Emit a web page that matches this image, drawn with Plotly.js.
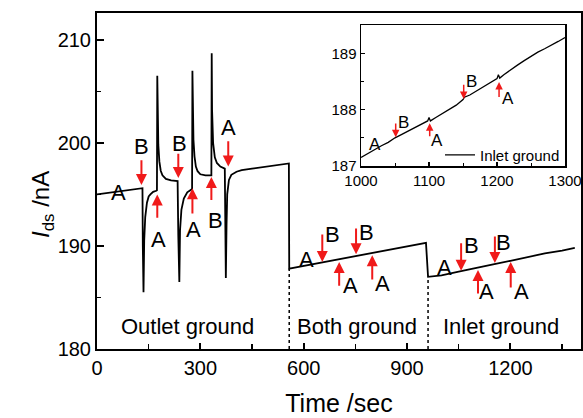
<!DOCTYPE html>
<html>
<head>
<meta charset="utf-8">
<script src="https://cdn.plot.ly/plotly-3.0.1.min.js"></script>
<style>html,body{margin:0;padding:0;background:#fff;}#chart{width:583px;height:418px;}</style>
</head>
<body>
<div id="chart"></div>
<script>
// ---- main trace: drain-source current vs time ----
const timeSec = [0, 30, 60, 90, 120, 132, 133, 135, 137, 140, 145, 150, 155, 163, 172, 174,
  175, 176, 178, 181, 185, 190, 200, 215, 234, 236, 239, 241, 245, 252, 262, 275, 276,
  277, 278, 280, 283, 287, 292, 300, 315, 331, 332, 333, 334, 337, 342, 348, 358, 371,
  372, 374, 376, 378, 383, 390, 405, 420, 450, 500, 557,
  558, 600, 650, 700, 750, 800, 850, 900, 955,
  961, 1000, 1050, 1100, 1150, 1200, 1250, 1300, 1350, 1387];
const currentNA = [195.00, 195.15, 195.28, 195.42, 195.55, 195.60, 190.0, 185.5, 190.5, 192.8, 194.2, 194.8, 195.0, 195.25, 195.35, 195.4,
  206.5, 202.3, 199.8, 198.2, 197.3, 196.85, 196.5, 196.35, 196.3, 191.0, 186.5, 191.5, 193.5, 194.6, 195.2, 195.5, 195.55,
  207.0, 203.2, 200.3, 198.7, 197.7, 197.25, 196.95, 196.85, 196.8, 196.85, 208.7, 203.2, 200.0, 198.6, 198.05, 197.7, 197.5,
  192.0, 186.9, 192.0, 195.0, 196.4, 196.9, 197.2, 197.35, 197.5, 197.75, 198.0,
  187.8, 188.06, 188.38, 188.69, 189.01, 189.32, 189.64, 189.95, 190.3,
  187.0, 187.15, 187.5, 187.82, 188.2, 188.56, 188.95, 189.27, 189.55, 189.8];

// region boundaries (dotted lines)
const boundaryTime = [558, 961];
const boundaryCurrent = [187.8, 187.0];
const regionNames = ["Outlet ground", "Both ground", "Inlet ground"];
const regionTime = [262, 755, 1172];

// ---- inset: inlet ground, 1000-1300 s ----
const insetTime = [1000, 1010, 1020, 1030, 1040, 1050, 1060, 1070, 1080, 1090, 1098, 1100, 1102, 1110, 1120,
  1130, 1140, 1150, 1152, 1160, 1170, 1180, 1190, 1200, 1202, 1204, 1210, 1220, 1230, 1240,
  1250, 1260, 1270, 1280, 1290, 1300];
const insetCurrent = [187.15, 187.22, 187.30, 187.36, 187.42, 187.50, 187.56, 187.62, 187.68, 187.74, 187.80, 187.86, 187.80, 187.86, 187.93,
  188.00, 188.08, 188.18, 188.22, 188.26, 188.33, 188.40, 188.47, 188.55, 188.62, 188.56, 188.62, 188.71, 188.79, 188.87,
  188.95, 189.02, 189.08, 189.14, 189.21, 189.28];

// ---- A / B valve switching markers (main) ----
const arrowTime = [129, 236, 381, 175, 277, 332, 654, 703, 752, 799, 1057, 1106, 1155, 1201];
const arrowTip  = [195.9, 196.6, 197.7, 195.0, 195.6, 196.7, 188.45, 188.45, 189.2, 189.1, 187.6, 187.67, 188.35, 188.45];
const arrowTail = [198.45, 199.1, 200.3, 192.6, 193.0, 194.3, 191.26, 186.0, 191.84, 186.6, 190.4, 185.24, 191.07, 185.83];
const labelText = ["A", "B", "B", "A", "A", "A", "B", "A", "B", "A", "B", "A", "A", "B", "A", "B", "A"];
const labelTime = [62, 129, 239, 381, 178, 280, 343, 607, 685, 735, 781, 830, 1010, 1088, 1132, 1181, 1233];
const labelCurrent = [195.15, 199.6, 199.9, 201.5, 190.6, 191.55, 192.5, 188.64, 191.07, 186.2, 191.26, 186.4, 187.86, 190.0, 185.6, 190.3, 185.6];

// ---- inset markers ----
const insetArrowTime = [1051, 1101, 1151, 1203];
const insetArrowTip  = [187.51, 187.76, 188.19, 188.49];
const insetArrowTail = [187.78, 187.50, 188.47, 188.20];
const insetLabelText = ["A", "B", "A", "B", "A"];
const insetLabelTime = [1020, 1062, 1112, 1162, 1216];
const insetLabelCurrent = [187.39, 187.78, 187.46, 188.50, 188.20];

const FONT = "Arial, 'Liberation Sans', sans-serif";
const RED = "#f01a1a";

const traces = [
  {x: timeSec, y: currentNA, type: "scatter", mode: "lines", line: {color: "#000", width: 1.8}, showlegend: false, hoverinfo: "skip"}
];
boundaryTime.forEach((t, i) => {
  traces.push({x: [t, t], y: [180, boundaryCurrent[i]], type: "scatter", mode: "lines",
    line: {color: "#000", width: 1.5, dash: "dot"}, showlegend: false, hoverinfo: "skip"});
});
traces.push({x: insetTime, y: insetCurrent, xaxis: "x2", yaxis: "y2", type: "scatter", mode: "lines",
  name: "Inlet ground", line: {color: "#000", width: 1.3}, showlegend: true});

const annotations = [];
arrowTime.forEach((t, i) => {
  annotations.push({x: t, y: arrowTip[i], ax: t, ay: arrowTail[i], axref: "x", ayref: "y", xref: "x", yref: "y",
    text: "", showarrow: true, arrowhead: 2, arrowsize: 1.1, arrowwidth: 2, arrowcolor: RED});
});
labelText.forEach((s, i) => {
  annotations.push({x: labelTime[i], y: labelCurrent[i], xref: "x", yref: "y", text: s, showarrow: false,
    font: {family: FONT, size: 22, color: "#000"}});
});
regionNames.forEach((s, i) => {
  annotations.push({x: regionTime[i], y: 182.2, xref: "x", yref: "y", text: s, showarrow: false,
    font: {family: FONT, size: 22, color: "#000"}});
});
insetArrowTime.forEach((t, i) => {
  annotations.push({x: t, y: insetArrowTip[i], ax: t, ay: insetArrowTail[i], axref: "x2", ayref: "y2", xref: "x2", yref: "y2",
    text: "", showarrow: true, arrowhead: 2, arrowsize: 1, arrowwidth: 1.5, arrowcolor: RED});
});
insetLabelText.forEach((s, i) => {
  annotations.push({x: insetLabelTime[i], y: insetLabelCurrent[i], xref: "x2", yref: "y2", text: s, showarrow: false,
    font: {family: FONT, size: 17, color: "#000"}});
});
annotations.push({x: -0.149, y: 0.43, xref: "paper", yref: "paper", text: "<i>I</i><sub>ds</sub> /nA",
  textangle: -90, showarrow: false, font: {family: FONT, size: 24, color: "#000"}});

const axisBase = {showgrid: false, zeroline: false, showline: true, mirror: true, linecolor: "#000",
  ticks: "inside", tickcolor: "#000"};

const layout = {
  width: 583, height: 418,
  margin: {l: 97, r: 2, t: 13, b: 69},
  paper_bgcolor: "#fff", plot_bgcolor: "#fff",
  font: {family: FONT, color: "#000"},
  xaxis: Object.assign({}, axisBase, {range: [0, 1405], tick0: 0, dtick: 300, linewidth: 2, ticklen: 6, tickwidth: 2,
    tickfont: {family: FONT, size: 20}, title: {text: "Time /sec", font: {family: FONT, size: 25}, standoff: 16},
    minor: {dtick: 150, ticks: "inside", ticklen: 5, tickwidth: 1.5, tickcolor: "#000", showgrid: false}}),
  yaxis: Object.assign({}, axisBase, {range: [180, 212.6], tick0: 180, dtick: 10, linewidth: 2, ticklen: 7, tickwidth: 2,
    tickfont: {family: FONT, size: 20},
    minor: {dtick: 5, ticks: "inside", ticklen: 4, tickwidth: 1.5, tickcolor: "#000", showgrid: false}}),
  xaxis2: Object.assign({}, axisBase, {domain: [0.5455, 0.967], anchor: "y2", range: [1000, 1300], tick0: 1000, dtick: 100,
    linewidth: 1.5, ticklen: 4, tickwidth: 1.2, tickfont: {family: FONT, size: 15},
    minor: {dtick: 50, ticks: "inside", ticklen: 3, tickwidth: 1, tickcolor: "#000", showgrid: false}}),
  yaxis2: Object.assign({}, axisBase, {domain: [0.5446, 0.964], anchor: "x2", range: [187, 189.5], tick0: 187, dtick: 1,
    linewidth: 1.5, ticklen: 4, tickwidth: 1.2, tickfont: {family: FONT, size: 15},
    minor: {dtick: 0.5, ticks: "inside", ticklen: 3, tickwidth: 1, tickcolor: "#000", showgrid: false}}),
  showlegend: true,
  legend: {x: 0.7087, y: 0.577, xanchor: "left", yanchor: "middle", bgcolor: "rgba(0,0,0,0)",
    font: {family: FONT, size: 15, color: "#000"}, borderwidth: 0},
  annotations: annotations
};

Plotly.newPlot("chart", traces, layout, {staticPlot: true, displayModeBar: false});
</script>
</body>
</html>
